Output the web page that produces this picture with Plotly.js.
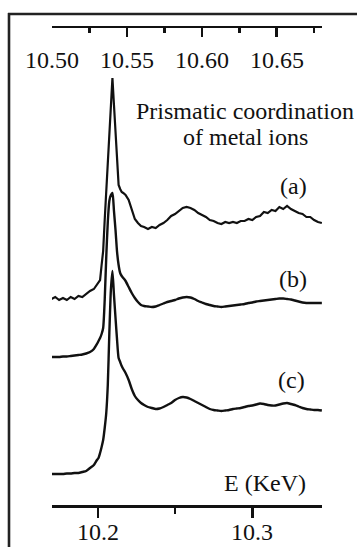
<!DOCTYPE html>
<html>
<head>
<meta charset="utf-8">
<script src="https://cdn.plot.ly/plotly-3.0.1.min.js"></script>
<style>
html,body{margin:0;padding:0;background:#fff;}
#chart{width:357px;height:547px;}
</style>
</head>
<body>
<div id="chart"></div>
<script>
// Photon energy (keV, bottom axis scale)
const energy = [
  10.170,10.1725,10.175,10.1775,10.180,10.1825,10.185,10.1875,10.190,10.1925,10.195,10.1975,
  10.1995,10.2005,10.2015,10.2025,10.2035,10.2045,10.2055,10.2065,10.2075,10.2085,10.2095,10.2105,10.2115,10.2125,10.2135,10.2145,10.2155,10.2165,
  10.218,10.220,10.222,10.224,10.226,10.228,10.230,
  10.2325,10.235,10.2375,10.24,10.2425,10.245,10.2475,10.25,10.2525,10.255,10.2575,10.26,10.2625,10.265,10.2675,10.27,
  10.2725,10.275,10.2775,10.28,10.2825,10.285,10.2875,10.29,10.2925,10.295,10.2975,10.3,10.3025,10.305,10.3075,10.31,
  10.3125,10.315,10.3175,10.32,10.3225,10.325,10.3275,10.33,10.3325,10.335,10.3375,10.34,10.3425,10.345
];

// Spectrum (a) – noisy, offset (arb. units)
const seriesA = [
  20.6,20.8,20.5,20.7,20.5,20.8,20.6,20.9,20.8,21.1,21.4,21.6,
  22.0,22.2,22.5,24.0,25.4,28.5,31.4,34.3,37.5,40.4,42.7,40.0,37.1,34.0,32.0,31.6,31.3,31.2,
  31.0,30.5,29.6,28.6,28.2,27.9,27.8,
  27.6,27.8,27.7,28.0,28.2,28.5,28.9,29.1,29.4,29.7,29.8,29.7,29.5,29.2,29.0,28.8,
  28.5,28.4,28.2,28.1,28.3,28.2,28.3,28.2,28.4,28.4,28.6,28.5,28.8,28.9,29.3,29.2,
  29.5,29.4,29.8,29.6,29.9,29.6,29.4,29.2,29.1,28.8,28.8,28.5,28.3,28.2
];

// Spectrum (b) – smooth
const seriesB = [
  14.8,14.8,14.8,14.85,14.85,14.9,14.95,15.0,15.05,15.15,15.3,15.6,
  16.1,16.4,16.7,17.1,17.7,20.5,24.8,28.3,30.4,31.0,31.2,29.4,27.5,25.3,24.0,23.2,22.9,22.7,
  22.4,21.8,21.2,20.7,20.3,20.0,19.9,
  19.85,19.8,19.85,20.0,20.15,20.3,20.4,20.5,20.65,20.75,20.8,20.75,20.6,20.4,20.25,20.1,
  20.0,19.9,19.85,19.8,19.85,19.9,19.95,20.0,20.05,20.1,20.2,20.25,20.35,20.4,20.45,20.5,
  20.55,20.6,20.65,20.65,20.6,20.55,20.45,20.35,20.25,20.2,20.2,20.2,20.2,20.2
];

// Spectrum (c) – smooth
const seriesC = [
  3.1,3.1,3.1,3.1,3.15,3.15,3.2,3.2,3.3,3.4,3.7,4.0,
  4.5,4.7,5.2,5.8,6.5,7.7,9.2,12.0,17.2,21.5,23.4,21.0,18.7,16.5,14.7,14.3,13.9,13.6,
  13.2,12.5,11.6,10.9,10.5,10.2,10.0,
  9.8,9.7,9.6,9.65,9.8,10.0,10.2,10.5,10.7,10.8,10.75,10.6,10.4,10.2,10.0,9.8,
  9.6,9.5,9.45,9.4,9.45,9.5,9.6,9.65,9.7,9.8,9.9,9.95,10.05,10.15,10.1,10.0,
  9.95,9.95,10.05,10.15,10.2,10.1,10.0,9.85,9.7,9.6,9.55,9.5,9.5,9.45
];

const bottomTickVals = [10.2, 10.3];
const bottomTickText = ['10.2', '10.3'];
const topTickVals = [10.50, 10.55, 10.60, 10.65];
const topTickText = ['10.50', '10.55', '10.60', '10.65'];
const curveLabels = ['(a)', '(b)', '(c)'];

const FONT = "'Liberation Serif', 'Times New Roman', Times, serif";
const lineStyle = {color: '#111', width: 2.4};

const traces = [
  {x: energy, y: seriesA, mode: 'lines', line: Object.assign({}, lineStyle, {width: 2.2}), hoverinfo: 'skip', showlegend: false},
  {x: energy, y: seriesB, mode: 'lines', line: Object.assign({}, lineStyle, {shape: 'spline', smoothing: 0.6}), hoverinfo: 'skip', showlegend: false},
  {x: energy, y: seriesC, mode: 'lines', line: Object.assign({}, lineStyle, {shape: 'spline', smoothing: 0.6}), hoverinfo: 'skip', showlegend: false},
  {x: [10.6], y: [-100], xaxis: 'x2', mode: 'markers', marker: {opacity: 0}, hoverinfo: 'skip', showlegend: false}
];

const W = 270, H = 477, L = 52, T = 28;
const px = v => (v - L) / W;
const py = v => (T + H - v) / H;

const textFont = {family: FONT, size: 24, color: '#111'};

const annotations = [
  {xref: 'paper', yref: 'paper', x: px(245), y: py(111), text: 'Prismatic coordination', showarrow: false, font: textFont, xanchor: 'center', yanchor: 'middle'},
  {xref: 'paper', yref: 'paper', x: px(245), y: py(137), text: 'of metal ions', showarrow: false, font: textFont, xanchor: 'center', yanchor: 'middle'},
  {xref: 'paper', yref: 'paper', x: px(293), y: py(186), text: curveLabels[0], showarrow: false, font: textFont, xanchor: 'center', yanchor: 'middle'},
  {xref: 'paper', yref: 'paper', x: px(293), y: py(279), text: curveLabels[1], showarrow: false, font: textFont, xanchor: 'center', yanchor: 'middle'},
  {xref: 'paper', yref: 'paper', x: px(291), y: py(380), text: curveLabels[2], showarrow: false, font: textFont, xanchor: 'center', yanchor: 'middle'},
  {xref: 'paper', yref: 'paper', x: px(265), y: py(483), text: 'E (KeV)', showarrow: false, font: textFont, xanchor: 'center', yanchor: 'middle'}
];
// top-axis tick labels (drawn below the top axis line)
topTickVals.forEach((v, i) => {
  annotations.push({xref: 'x2', yref: 'paper', x: v, y: py(60), text: topTickText[i], showarrow: false,
    font: textFont, xanchor: 'center', yanchor: 'middle'});
});
// bottom-axis tick labels
bottomTickVals.forEach((v, i) => {
  annotations.push({xref: 'x', yref: 'paper', x: v, y: py(532), text: bottomTickText[i], showarrow: false,
    font: textFont, xanchor: 'center', yanchor: 'middle'});
});

const layout = {
  width: 357, height: 547,
  margin: {l: L, r: 357 - L - W, t: T, b: 547 - T - H, pad: 0},
  paper_bgcolor: '#fff', plot_bgcolor: '#fff',
  font: {family: FONT, color: '#111', size: 24},
  xaxis: {
    range: [10.1704, 10.3451], showgrid: false, zeroline: false,
    showline: true, linecolor: '#111', linewidth: 2.5,
    tickmode: 'array', tickvals: bottomTickVals, ticktext: bottomTickText, showticklabels: false,
    ticks: 'outside', ticklen: 10, tickwidth: 2.5, tickcolor: '#111',
    minor: {dtick: 0.05, tick0: 10.2, ticks: 'outside', ticklen: 6, tickwidth: 2.5, tickcolor: '#111', showgrid: false},
    fixedrange: true
  },
  xaxis2: {
    overlaying: 'x', side: 'top', anchor: 'y',
    range: [10.4998, 10.6803], showgrid: false, zeroline: false,
    showline: true, linecolor: '#111', linewidth: 2.5,
    tickmode: 'array', tickvals: topTickVals, ticktext: topTickText, showticklabels: false,
    ticks: 'inside', ticklen: 9, tickwidth: 2.5, tickcolor: '#111',
    minor: {dtick: 0.025, tick0: 10.5, ticks: 'inside', ticklen: 5, tickwidth: 2.5, tickcolor: '#111', showgrid: false},
    fixedrange: true
  },
  yaxis: {range: [0, 47.7], visible: false, fixedrange: true},
  shapes: [
    {type: 'line', xref: 'paper', yref: 'paper', x0: px(9), x1: px(9), y0: py(547), y1: py(13), line: {color: '#222', width: 2.6}},
    {type: 'line', xref: 'paper', yref: 'paper', x0: px(8), x1: px(357), y0: py(14), y1: py(14), line: {color: '#222', width: 2.6}}
  ],
  annotations: annotations
};

Plotly.newPlot('chart', traces, layout, {staticPlot: true, displayModeBar: false});
</script>
</body>
</html>
